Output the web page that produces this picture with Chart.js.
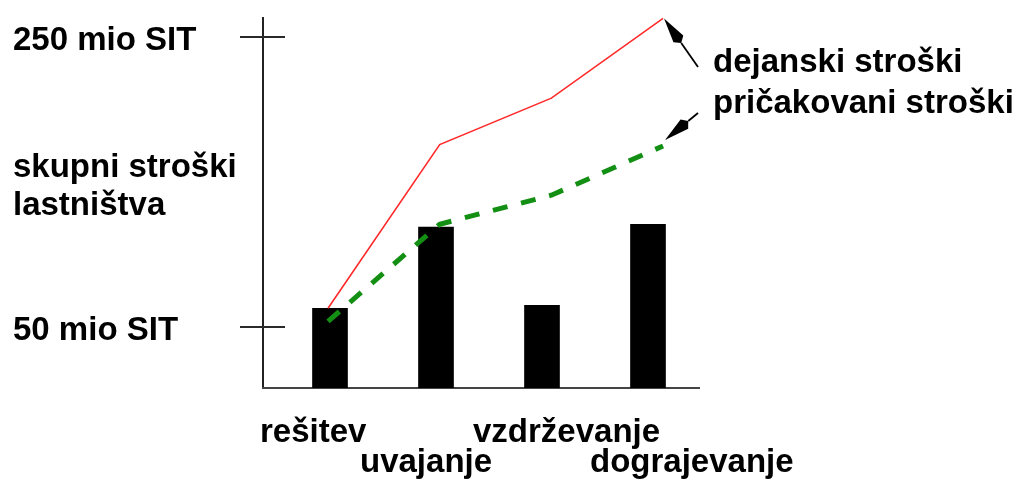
<!DOCTYPE html>
<html>
<head>
<meta charset="utf-8">
<script src="https://cdn.jsdelivr.net/npm/chart.js@4/dist/chart.umd.min.js"></script>
<style>
html,body{margin:0;padding:0;background:#fff;}
canvas{display:block;}
</style>
</head>
<body>
<canvas id="c" width="1020" height="484"></canvas>
<script>
const categories = ['rešitev', 'uvajanje', 'vzdrževanje', 'dograjevanje'];
const barValues = [63, 119, 65, 121];
const actualCosts = [63, 176, 208, 263];
const expectedCosts = [54, 121, 141, 175];
const yTickValues = [50, 250];
const yTickLabels = ['50 mio SIT', '250 mio SIT'];
const yTitleLines = ['skupni stroški', 'lastništva'];
const seriesLabels = ['dejanski stroški', 'pričakovani stroški'];

const FONT = 'bold 33px "Liberation Sans", Arial, sans-serif';

function arrow(ctx, x1, y1, x2, y2) {
  const ang = Math.atan2(y2 - y1, x2 - x1);
  const c = Math.cos(ang), s = Math.sin(ang);
  const headLen = 30, headW = 6;
  const bx = x2 - headLen * c, by = y2 - headLen * s;
  ctx.save();
  ctx.strokeStyle = '#000';
  ctx.fillStyle = '#000';
  ctx.lineWidth = 1.8;
  ctx.beginPath();
  ctx.moveTo(x1, y1);
  ctx.lineTo(bx, by);
  ctx.stroke();
  const px = -s, py = c;
  const wx = bx + c * 5, wy = by + s * 5;
  ctx.beginPath();
  ctx.moveTo(x2, y2);
  ctx.lineTo(wx + px * headW, wy + py * headW);
  ctx.lineTo(bx, by);
  ctx.lineTo(wx - px * headW, wy - py * headW);
  ctx.closePath();
  ctx.fill();
  ctx.restore();
}

const decor = {
  id: 'decor',
  beforeDatasetsDraw(chart) {
    const ctx = chart.ctx, a = chart.chartArea, ys = chart.scales.y;
    const axX = a.left - 14, axRight = a.right - 1;
    ctx.save();
    ctx.strokeStyle = '#222';
    ctx.lineWidth = 2;
    ctx.beginPath();
    ctx.moveTo(axX, a.top);
    ctx.lineTo(axX, a.bottom);
    ctx.stroke();
    ctx.strokeStyle = '#444';
    ctx.beginPath();
    ctx.moveTo(axX - 1, a.bottom);
    ctx.lineTo(axRight, a.bottom);
    ctx.stroke();
    ctx.strokeStyle = '#2a2a2a';
    yTickValues.forEach(v => {
      const y = Math.round(ys.getPixelForValue(v));
      ctx.beginPath();
      ctx.moveTo(axX - 23, y);
      ctx.lineTo(axX + 22, y);
      ctx.stroke();
    });
    ctx.restore();
  },
  afterDraw(chart) {
    const ctx = chart.ctx, ys = chart.scales.y;
    ctx.save();
    ctx.font = FONT;
    ctx.fillStyle = '#000';
    ctx.textBaseline = 'alphabetic';
    ctx.textAlign = 'left';
    yTickValues.forEach((v, i) => {
      ctx.fillText(yTickLabels[i], 13, ys.getPixelForValue(v) + 13);
    });
    ctx.fillText(yTitleLines[0], 13, 177);
    ctx.fillText(yTitleLines[1], 13, 215);
    const labelX = [260, 360, 473, 590];
    const labelY = [442, 472, 442, 472];
    categories.forEach((c, i) => ctx.fillText(c, labelX[i], labelY[i]));
    ctx.fillText(seriesLabels[0], 713, 72);
    ctx.fillText(seriesLabels[1], 713, 113);
    const m1 = chart.getDatasetMeta(1).data[3];
    const m2 = chart.getDatasetMeta(2).data[3];
    arrow(ctx, 698, 67, m1.x + 1, m1.y);
    arrow(ctx, 698, 113, m2.x + 2, m2.y - 6);
    ctx.restore();
  }
};

new Chart(document.getElementById('c'), {
  type: 'bar',
  data: {
    labels: categories,
    datasets: [
      {
        type: 'bar',
        data: barValues,
        backgroundColor: '#000',
        borderWidth: 0,
        grouped: false,
        barThickness: 35,
        maxBarThickness: 35,
        order: 3
      },
      {
        type: 'line',
        xAxisID: 'xi',
        data: actualCosts.map((v, i) => ({ x: i, y: v })),
        borderColor: '#ff2a2a',
        borderWidth: 1.6,
        pointRadius: 0,
        tension: 0,
        fill: false,
        clip: false,
        order: 1
      },
      {
        type: 'line',
        xAxisID: 'xi',
        data: expectedCosts.map((v, i) => ({ x: i, y: v })),
        borderColor: '#138f13',
        borderWidth: 5,
        borderDash: [15, 14],
        pointRadius: 0,
        tension: 0,
        fill: false,
        clip: false,
        order: 2
      }
    ]
  },
  options: {
    responsive: false,
    animation: false,
    devicePixelRatio: 1,
    layout: { padding: { left: 277, right: 319, top: 17, bottom: 96 } },
    plugins: { legend: { display: false }, tooltip: { enabled: false } },
    scales: {
      x: { type: 'category', display: false, offset: true },
      xi: { type: 'linear', display: false, offset: false, min: -0.457, max: 3.34 },
      y: { type: 'linear', display: false, min: 8, max: 264 }
    }
  },
  plugins: [decor]
});
</script>
</body>
</html>
